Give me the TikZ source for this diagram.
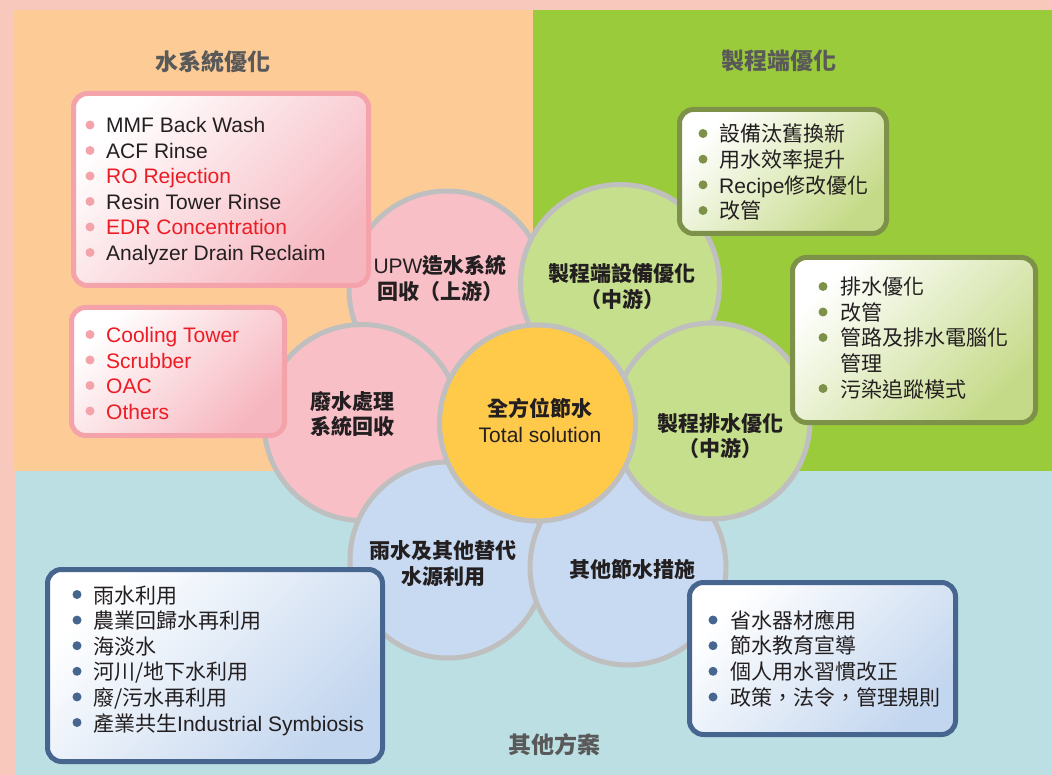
\documentclass[tikz,border=0pt]{standalone}
\usepackage{fontspec}
\setmainfont{Liberation Sans}
\newfontfamily\cjk{Noto Sans CJK TC}
\definecolor{outerpink}{HTML}{F9C8BD}
\definecolor{bgorange}{HTML}{FDCC96}
\definecolor{bggreen}{HTML}{9ACB3A}
\definecolor{bgteal}{HTML}{BBDFE2}
\definecolor{cpink}{HTML}{F8BFC7}
\definecolor{cgreen}{HTML}{C6DF8D}
\definecolor{cblue}{HTML}{C7DAF1}
\definecolor{cyellow}{HTML}{FFC94A}
\definecolor{cring}{HTML}{BFBFBF}
\definecolor{bpink}{HTML}{F4A3AB}
\definecolor{bolive}{HTML}{7E9148}
\definecolor{bblue}{HTML}{46658F}
\definecolor{gpink}{HTML}{F6B6BF}
\definecolor{golive}{HTML}{C5DA88}
\definecolor{gblue}{HTML}{C3D6EF}
\definecolor{txt}{HTML}{231F20}
\definecolor{titlegray}{HTML}{595959}
\definecolor{redtxt}{HTML}{ED1C24}
\begin{document}
\begin{tikzpicture}[x=1pt,y=-1pt,
  petal/.style={circle, draw=cring, line width=5pt, minimum size=196pt, inner sep=0pt},
  plabel/.style={font=\cjk\bfseries\fontsize{21}{25.5}\selectfont, text=txt, align=center, inner sep=0pt},
  titletext/.style={font=\cjk\bfseries\fontsize{23}{28}\selectfont, text=titlegray, inner sep=0pt},
  pinkbox/.style={draw=bpink, line width=5pt, rounded corners=14pt, top color=white, bottom color=gpink, shading angle=45},
  olivebox/.style={draw=bolive, line width=5pt, rounded corners=14pt, top color=white, bottom color=golive, shading angle=45},
  bluebox/.style={draw=bblue, line width=5pt, rounded corners=14pt, top color=white, bottom color=gblue, shading angle=45},
  item/.style={anchor=base west, inner sep=0pt, font=\fontsize{21}{25}\selectfont, text=txt},
  citem/.style={item, font=\cjk\fontsize{21}{25}\selectfont},
  reditem/.style={item, text=redtxt}
]
\useasboundingbox (0,0) rectangle (1052,775);
% backgrounds
\fill[outerpink] (0,0) rectangle (1052,775);
\fill[bgorange] (14,10) rectangle (533,471);
\fill[bggreen] (533,10) rectangle (1052,471);
\fill[bgteal] (15,471) rectangle (1052,775);
% titles
\node[titletext] (t1) at (213,62) {水系統優化};
\node[titletext] (t2) at (779,61) {製程端優化};
\node[titletext] (t3) at (554,745) {其他方案};
% petals
\node[petal, fill=cpink] (cupw) at (447,289) {};
\node[petal, fill=cpink] (cwaste) at (362,422.5) {};
\node[petal, fill=cblue] (cbl) at (448,560) {};
\node[petal, fill=cblue] (cbr) at (628,567) {};
\node[petal, fill=cgreen, minimum size=199pt] (ctg) at (620,284) {};
\node[petal, fill=cgreen] (crg) at (712,421) {};
\node[petal, fill=cyellow] (cc) at (537.5,423) {};
% petal labels
\node[plabel] (lupw) at (440,278.5) {{\rmfamily\mdseries UPW}造水系統\\回收（上游）};
\node[plabel] (ltg) at (622,286.5) {製程端設備優化\\（中游）};
\node[plabel] (lwaste) at (352,414) {廢水處理\\系統回收};
\node[plabel] (lc) at (540,420.5) {全方位節水\\{\rmfamily\mdseries Total solution}};
\node[plabel] (lrg) at (720,436) {製程排水優化\\（中游）};
\node[plabel] (lbl) at (443,563.5) {雨水及其他替代\\水源利用};
\node[plabel] (lbr) at (632,569) {其他節水措施};
% box 1 (top-left)
\draw[pinkbox] (73.5,93.5) rectangle (368.5,285.5);
\foreach \b in {133,158.5,184,209.5,235,260.5} \fill[bpink] (90,\b-8) circle (4.5pt);
\node[item] (a1) at (106,133) {MMF Back Wash};
\node[item] (a2) at (106,158.5) {ACF Rinse};
\node[reditem] (a3) at (106,184) {RO Rejection};
\node[item] (a4) at (106,209.5) {Resin Tower Rinse};
\node[reditem] (a5) at (106,235) {EDR Concentration};
\node[item] (a6) at (106,260.5) {Analyzer Drain Reclaim};
% box 2 (left)
\draw[pinkbox] (71.5,307.5) rectangle (284.5,435.5);
\foreach \b in {343,368.5,394,419.5} \fill[bpink] (90,\b-8.5) circle (4.5pt);
\node[reditem] (b1) at (106,343) {Cooling Tower};
\node[reditem] (b2) at (106,368.5) {Scrubber};
\node[reditem] (b3) at (106,394) {OAC};
\node[reditem] (b4) at (106,419.5) {Others};
% box 3 (top-right)
\draw[olivebox] (679.5,109.5) rectangle (886.5,233.5);
\foreach \b in {142,167.7,193.3,219} \fill[bolive] (703,\b-8.5) circle (4.5pt);
\node[citem] (c1) at (719,142) {設備汰舊換新};
\node[citem] (c2) at (719,167.7) {用水效率提升};
\node[item] (c3) at (719,193.3) {Recipe{\cjk 修改優化}};
\node[citem] (c4) at (719,219) {改管};
% box 4 (right)
\draw[olivebox] (792.5,257.5) rectangle (1035.5,422.5);
\foreach \b in {295,320.5,346,397} \fill[bolive] (823,\b-8.5) circle (4.5pt);
\node[citem] (d1) at (840,295) {排水優化};
\node[citem] (d2) at (840,320.5) {改管};
\node[citem] (d3) at (840,346) {管路及排水電腦化};
\node[citem] (d4) at (840,371.5) {管理};
\node[citem] (d5) at (840,397) {污染追蹤模式};
% box 5 (bottom-left)
\draw[bluebox] (47.5,569.5) rectangle (382.5,761.5);
\foreach \b in {603,628.6,654.2,679.8,705.4,731} \fill[bblue] (77,\b-8.5) circle (4.5pt);
\node[citem] (e1) at (93,603) {雨水利用};
\node[citem] (e2) at (93,628.6) {農業回歸水再利用};
\node[citem] (e3) at (93,654.2) {海淡水};
\node[citem] (e4) at (93,679.8) {河川/地下水利用};
\node[citem] (e5) at (93,705.4) {廢/污水再利用};
\node[item] (e6) at (93,731) {{\cjk 產業共生}Industrial Symbiosis};
% box 6 (bottom-right)
\draw[bluebox] (689.5,582.5) rectangle (955.5,734.5);
\foreach \b in {628,653.7,679.3,705} \fill[bblue] (713,\b-8) circle (4.5pt);
\node[citem] (f1) at (730,628) {省水器材應用};
\node[citem] (f2) at (730,653.7) {節水教育宣導};
\node[citem] (f3) at (730,679.3) {個人用水習慣改正};
\node[citem] (f4) at (730,705) {政策，法令，管理規則};
\end{tikzpicture}
\end{document}
